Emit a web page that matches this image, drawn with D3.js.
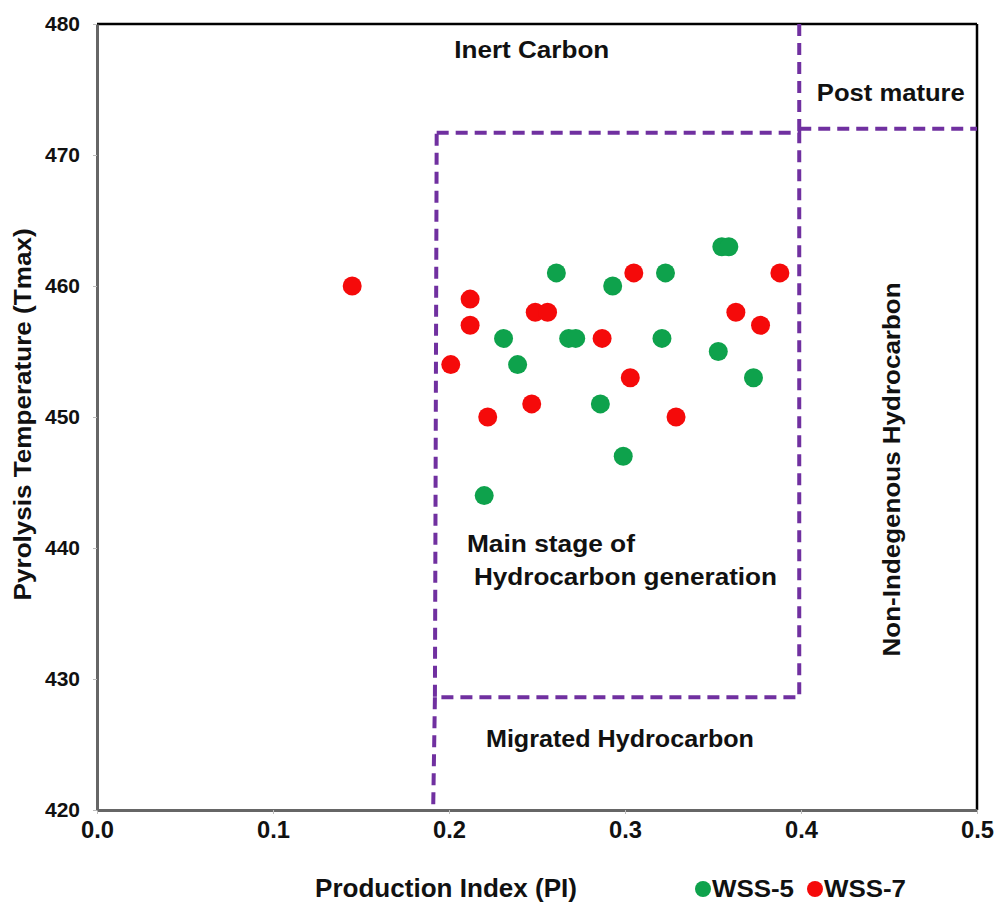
<!DOCTYPE html>
<meta charset="utf-8">
<html>
<head>
<style>
  body { margin: 0; background: #fff; }
  text { font-family: "Liberation Sans", Arial, sans-serif; font-weight: bold; fill: #111; }
</style>
<script src="https://d3js.org/d3.v7.min.js"></script>
</head>
<body>
<svg width="995" height="902"></svg>
<script>

// PI, Tmax readings per well
var wss5 = [[0.220,444],[0.231,456],[0.239,454],[0.261,461],[0.268,456],[0.272,456],[0.286,451],
            [0.293,460],[0.299,447],[0.321,456],[0.323,461],[0.353,455],[0.355,463],[0.359,463],[0.373,453]];
var wss7 = [[0.145,460],[0.201,454],[0.212,459],[0.212,457],[0.222,450],[0.247,451],[0.249,458],
            [0.256,458],[0.287,456],[0.303,453],[0.305,461],[0.329,450],[0.363,458],[0.377,457],[0.388,461]];

var xTicks = [0.0, 0.1, 0.2, 0.3, 0.4, 0.5];
var yTicks = [420, 430, 440, 450, 460, 470, 480];

// zone boundaries (PI, Tmax)
var zoneBox = [[0.193,471.7],[0.399,471.7],[0.399,428.6],[0.192,428.6],[0.193,471.7]];
var zoneLines = [
  [[0.399,480],[0.399,471.7]],
  [[0.399,472],[0.5,472]],
  [[0.192,428.6],[0.191,420]]
];

var svg = d3.select("svg"),
    margin = {top: 24, right: 18, bottom: 92, left: 97},
    width = +svg.attr("width") - margin.left - margin.right,
    height = +svg.attr("height") - margin.top - margin.bottom,
    g = svg.append("g").attr("transform", "translate(" + margin.left + "," + margin.top + ")");

var x = d3.scaleLinear().domain([0, 0.5]).range([0, width]),
    y = d3.scaleLinear().domain([420, 480]).range([height, 0]);

// frame
g.append("line").attr("x1", 0).attr("x2", width).attr("y1", 0).attr("y2", 0)
  .attr("stroke", "#000").attr("stroke-width", 2.5);
g.append("line").attr("x1", width).attr("x2", width).attr("y1", 0).attr("y2", height)
  .attr("stroke", "#000").attr("stroke-width", 2.5);

var xAxis = g.append("g")
  .attr("transform", "translate(0," + height + ")")
  .call(d3.axisBottom(x).tickValues(xTicks).tickFormat(d3.format(".1f")).tickSizeInner(4).tickSizeOuter(0).tickPadding(7));
xAxis.select(".domain").attr("stroke", "#666").attr("stroke-width", 3);
xAxis.selectAll(".tick line").attr("stroke", "#bbb");
xAxis.selectAll("text").attr("font-size", 24).attr("font-family", null)
  .attr("textLength", 33).attr("lengthAdjust", "spacingAndGlyphs");

var yAxis = g.append("g")
  .call(d3.axisLeft(y).tickValues(yTicks).tickSizeInner(4).tickSizeOuter(0).tickPadding(13));
yAxis.select(".domain").attr("stroke", "#666").attr("stroke-width", 3);
yAxis.selectAll(".tick line").attr("stroke", "#bbb");
yAxis.selectAll("text").attr("font-size", 21).attr("font-family", null);

// dashed zone lines
var line = d3.line().x(function(d) { return x(d[0]); }).y(function(d) { return y(d[1]); });
var dash = { stroke: "#7030a0", "stroke-width": 4, "stroke-dasharray": "12,7", fill: "none" };

function styleDash(sel) {
  for (var k in dash) sel.attr(k, dash[k]);
  return sel;
}
styleDash(g.append("path").attr("d", line(zoneBox)));
zoneLines.forEach(function(l) { styleDash(g.append("path").attr("d", line(l))); });

// text helper: width stretched to the reference
function label(parent, txt, len) {
  return parent.append("text").attr("textLength", len).attr("lengthAdjust", "spacingAndGlyphs").text(txt);
}

// zone labels
var labels = g.append("g").attr("font-size", 23);
label(labels, "Inert Carbon", 155).attr("x", x(0.203)).attr("y", y(477.4));
label(labels, "Post mature", 148).attr("x", x(0.409)).attr("y", y(474.1));
label(labels, "Main stage of", 168).attr("x", x(0.2102)).attr("y", y(439.7));
label(labels, "Hydrocarbon generation", 303).attr("x", x(0.2142)).attr("y", y(437.2));
label(labels, "Migrated Hydrocarbon", 268).attr("x", x(0.221)).attr("y", y(424.8));
label(labels, "Non-Indegenous Hydrocarbon", 374)
  .attr("transform", "translate(" + (x(0.455) + 2) + "," + y(446) + ") rotate(-90)")
  .attr("x", -187);

// points
g.selectAll(".p5").data(wss5).enter().append("circle")
  .attr("class", "p5")
  .attr("cx", function(d) { return x(d[0]); })
  .attr("cy", function(d) { return y(d[1]); })
  .attr("r", 9.5)
  .attr("fill", "#0ea24c");

g.selectAll(".p7").data(wss7).enter().append("circle")
  .attr("class", "p7")
  .attr("cx", function(d) { return x(d[0]); })
  .attr("cy", function(d) { return y(d[1]); })
  .attr("r", 9.5)
  .attr("fill", "#f50a0a");

// axis titles
label(svg, "Pyrolysis Temperature (Tmax)", 372)
  .attr("transform", "translate(31," + (margin.top + y(450.2)) + ") rotate(-90)")
  .attr("x", -186).attr("font-size", 23);

label(svg, "Production Index (PI)", 262)
  .attr("x", 315).attr("y", 897).attr("font-size", 25);

// legend
var legend = svg.append("g").attr("transform", "translate(703,889)");
var items = [{name: "WSS-5", color: "#0ea24c"}, {name: "WSS-7", color: "#f50a0a"}];
items.forEach(function(it, i) {
  var lg = legend.append("g").attr("transform", "translate(" + (i * 112) + ",0)");
  lg.append("circle").attr("r", 8).attr("fill", it.color);
  label(lg, it.name, 82).attr("x", 9).attr("y", 8).attr("font-size", 24);
});

</script>
</body>
</html>
